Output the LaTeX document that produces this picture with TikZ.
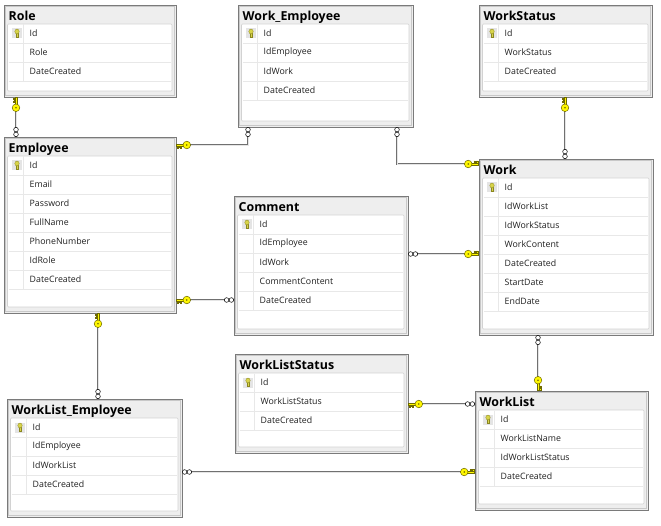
\documentclass[tikz,border=0pt]{standalone}
\usepackage{fontspec}
\setmainfont{Open Sans}
\usetikzlibrary{calc}
\definecolor{frameC}{HTML}{7A7A7A}
\definecolor{frameIn}{HTML}{C8C8C8}
\definecolor{titleC}{HTML}{EEEEEE}
\definecolor{panelB}{HTML}{D2D2D2}
\definecolor{rowL}{HTML}{E8E8E8}
\definecolor{txtC}{HTML}{202020}
\definecolor{keyY}{HTML}{FFF700}
\definecolor{keyO}{HTML}{6E6A00}
\definecolor{tkeyY}{HTML}{D8D44A}
\definecolor{tkeyO}{HTML}{8A8620}
\definecolor{iconbg}{HTML}{E4E4E4}
\definecolor{relC}{HTML}{707070}
\tikzset{
  tblbox/.style={draw=frameC, line width=0.8pt, fill=titleC, inner sep=0pt, outer sep=0pt, rectangle},
  tblinner/.style={draw=frameIn, line width=0.5pt},
  panel/.style={draw=panelB, fill=white, line width=0.6pt, rounded corners=1pt},
  rowline/.style={draw=rowL, line width=0.6pt},
  rowtext/.style={font=\fontsize{8.8}{10}\selectfont, text=txtC, inner sep=0pt, anchor=west},
  tbltitle/.style={font=\fontsize{12.4}{14}\selectfont\bfseries, text=black, inner sep=0pt, anchor=base west},
  rel/.style={draw=relC, line width=0.6pt, double=white!80!gray, double distance=0.9pt},
  pics/fkkey/.style={code={
    \filldraw[fill=keyY, draw=keyO, line width=0.4pt] (0.5,-1.1) rectangle (8,1.1);
    \filldraw[fill=keyY, draw=keyO, line width=0.4pt] (1.2,1.1) -- (1.2,3) -- (2.6,3) -- (2.6,1.9) -- (3.8,1.9) -- (3.8,3) -- (5.2,3) -- (5.2,1.1) -- cycle;
    \filldraw[fill=keyY, draw=keyO, line width=0.5pt] (10.8,0) circle (3.8);
    \fill[keyO] (10.8,0) circle (0.9);
  }},
  pics/fkinf/.style={code={
    \filldraw[fill=white, draw=black, line width=0.5pt] (2.6,0) circle (2.3) (7.4,0) circle (2.3);
  }},
}
\newcommand{\dbtab}[8]{%
  \node[tblbox, minimum width=#4pt, minimum height=#5pt, anchor=north west] (#1) at (#2,#3) {};
  \draw[tblinner] ($(#1.north west)+(1.4,1.4)$) rectangle ($(#1.south east)+(-1.4,-1.4)$);
  \draw[panel] ($(#1.north west)+(3.5,19)$) rectangle ($(#1.south east)+(-4,-6)$);
  \draw[rowline] ($(#1.north west)+(19,19.5)$) -- ($(#1.north west)+(19,19+19*#7)$);
  \foreach \rn [count=\ri] in {#8} {
    \draw[rowline] ($(#1.north west)+(4.5,19+19*\ri)$) -- ($(#1.north east)+(-5,19+19*\ri)$);
    \node[rowtext] (#1-r\ri) at ($(#1.north west)+(25.5,9.5+19*\ri)$) {\rn};
  }
  \fill[iconbg] ($(#1.north west)+(8,23.5)$) rectangle ($(#1.north west)+(18,33.5)$);
  \filldraw[fill=tkeyY, draw=tkeyO, line width=0.3pt] ($(#1.north west)+(12.3,28)$) rectangle ($(#1.north west)+(13.7,32.5)$);
  \filldraw[fill=tkeyY, draw=tkeyO, line width=0.3pt] ($(#1.north west)+(13,26.5)$) ellipse (2.2 and 2.5);
  \node[tbltitle] (#1-t) at ($(#1.north west)+(4.5,15.5)$) {#6};
}
\begin{document}
\begin{tikzpicture}[x=1pt,y=-1pt]
\fill[white] (0,0) rectangle (661,526);
\useasboundingbox (0,0) rectangle (661,526);

\dbtab{role}{4}{5}{172}{92}{Role}{3}{Id,Role,DateCreated}
\dbtab{we}{238}{5}{175}{122}{Work\_Employee}{4}{Id,IdEmployee,IdWork,DateCreated}
\dbtab{ws}{479}{5}{173}{92}{WorkStatus}{3}{Id,WorkStatus,DateCreated}
\dbtab{emp}{4}{137}{172}{176}{Employee}{7}{Id,Email,Password,FullName,PhoneNumber,IdRole,DateCreated}
\dbtab{work}{479}{159}{174}{176}{Work}{7}{Id,IdWorkList,IdWorkStatus,WorkContent,DateCreated,StartDate,EndDate}
\dbtab{comment}{234}{196}{174}{139}{Comment}{5}{Id,IdEmployee,IdWork,CommentContent,DateCreated}
\dbtab{wls}{235}{354}{173}{99}{WorkListStatus}{3}{Id,WorkListStatus,DateCreated}
\dbtab{wl}{475}{391}{173}{119}{WorkList}{4}{Id,WorkListName,IdWorkListStatus,DateCreated}
\dbtab{wle}{7}{399}{175}{118}{WorkList\_Employee}{4}{Id,IdEmployee,IdWorkList,DateCreated}

% Role - Employee
\coordinate (c1a) at ($(role.south west)+(12,0)$);
\coordinate (c1b) at (c1a |- emp.north);
\draw[rel] (c1a) -- (c1b);
\pic[rotate=-90] at (c1a) {fkkey};
\pic[rotate=90] at (c1b) {fkinf};
% Employee - Work_Employee
\coordinate (c2a) at ($(emp.north east)+(0,8)$);
\coordinate (c2b) at ($(we.south west)+(10,0)$);
\draw[rel] (c2a) -| (c2b);
\pic at (c2a) {fkkey};
\pic[rotate=-90] at (c2b) {fkinf};
% Work_Employee - Work
\coordinate (c3a) at ($(we.south east)+(-16,0)$);
\coordinate (c3b) at ($(work.north west)+(0,5)$);
\draw[rel] (c3a) |- (c3b);
\pic[rotate=-90] at (c3a) {fkinf};
\pic[rotate=180] at (c3b) {fkkey};
% WorkStatus - Work
\coordinate (c4a) at ($(ws.south west)+(86,0)$);
\coordinate (c4b) at (c4a |- work.north);
\draw[rel] (c4a) -- (c4b);
\pic[rotate=-90] at (c4a) {fkkey};
\pic[rotate=90] at (c4b) {fkinf};
% Comment - Work
\coordinate (c5a) at ($(comment.north east)+(0,58)$);
\coordinate (c5b) at (c5a -| work.west);
\draw[rel] (c5a) -- (c5b);
\pic at (c5a) {fkinf};
\pic[rotate=180] at (c5b) {fkkey};
% Employee - Comment
\coordinate (c6a) at ($(emp.north east)+(0,163)$);
\coordinate (c6b) at (c6a -| comment.west);
\draw[rel] (c6a) -- (c6b);
\pic at (c6a) {fkkey};
\pic[rotate=180] at (c6b) {fkinf};
% Employee - WorkList_Employee
\coordinate (c7a) at ($(emp.south west)+(94,0)$);
\coordinate (c7b) at (c7a |- wle.north);
\draw[rel] (c7a) -- (c7b);
\pic[rotate=-90] at (c7a) {fkkey};
\pic[rotate=90] at (c7b) {fkinf};
% Work - WorkList
\coordinate (c8a) at ($(work.south west)+(59,0)$);
\coordinate (c8b) at (c8a |- wl.north);
\draw[rel] (c8a) -- (c8b);
\pic[rotate=-90] at (c8a) {fkinf};
\pic[rotate=90] at (c8b) {fkkey};
% WorkListStatus - WorkList
\coordinate (c9a) at ($(wls.north east)+(0,50)$);
\coordinate (c9b) at (c9a -| wl.west);
\draw[rel] (c9a) -- (c9b);
\pic at (c9a) {fkkey};
\pic[rotate=180] at (c9b) {fkinf};
% WorkList_Employee - WorkList
\coordinate (c10a) at ($(wle.north east)+(0,73)$);
\coordinate (c10b) at (c10a -| wl.west);
\draw[rel] (c10a) -- (c10b);
\pic at (c10a) {fkinf};
\pic[rotate=180] at (c10b) {fkkey};
\end{tikzpicture}
\end{document}
